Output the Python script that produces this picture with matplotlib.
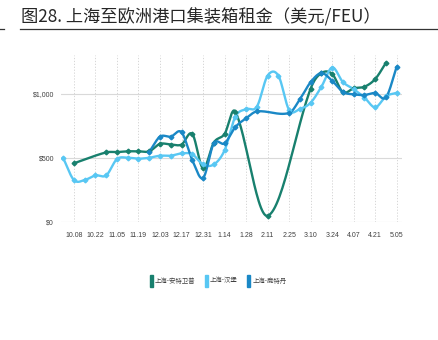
import numpy as np
import matplotlib
matplotlib.use("Agg")
import matplotlib.pyplot as plt
from matplotlib.patches import Rectangle
from matplotlib.lines import Line2D

plt.rcParams['font.family'] = ['Noto Sans CJK SC', 'DejaVu Sans']

# ---- data (week index 0 = 10.08, weekly) ----
tick_labels = ["10.08", "10.22", "11.05", "11.19", "12.03", "12.17", "12.31", "1.14",
               "1.28", "2.11", "2.25", "3.10", "3.24", "4.07", "4.21", "5.05"]
tick_weeks = list(range(0, 31, 2))

series_names = ["上海-安特卫普", "上海-汉堡", "上海-鹿特丹"]

antwerp_weeks = [0, 3, 4, 5, 6, 7, 8, 9, 10, 11, 12, 13, 14, 15, 18, 22, 23, 24, 25, 26, 27, 28, 29]
antwerp_vals = [459, 544, 546, 552, 552, 552, 610, 605, 605, 687, 420, 620, 687, 860, 51, 1040,
                1160, 1153, 1011, 1042, 1054, 1114, 1240]

hamburg_weeks = [-1, 0, 1, 2, 3, 4, 5, 6, 7, 8, 9, 10, 11, 12, 13, 14, 15, 16, 17, 18, 19, 20,
                 21, 22, 23, 24, 25, 26, 27, 28, 29, 30]
hamburg_vals = [500, 329, 329, 365, 365, 492, 502, 495, 502, 518, 518, 536, 529, 450, 450, 560,
                821, 880, 899, 1140, 1140, 873, 881, 930, 1054, 1203, 1090, 1035, 970, 894, 980, 1007]

rotterdam_weeks = [7, 8, 9, 10, 11, 12, 13, 14, 15, 16, 17, 20, 21, 22, 23, 24, 25, 26, 27, 28, 29, 30]
rotterdam_vals = [548, 666, 666, 700, 484, 345, 614, 614, 740, 809, 862, 850, 956, 1090, 1160,
                  1100, 1013, 995, 990, 1005, 972, 1210]

colors = ["#18806e", "#58c7f3", "#1a88c6"]


def smooth(xs, ys, n=30):
    """Smoothed line (cubic Hermite, finite-difference tangents) through the data points."""
    x = np.asarray(xs, float)
    y = np.asarray(ys, float)
    m = np.zeros_like(y)
    m[1:-1] = (y[2:] - y[:-2]) / (x[2:] - x[:-2])
    m[0] = (y[1] - y[0]) / (x[1] - x[0])
    m[-1] = (y[-1] - y[-2]) / (x[-1] - x[-2])
    ox, oy = [], []
    for i in range(len(x) - 1):
        h = x[i + 1] - x[i]
        s = np.linspace(0, 1, n)
        if i > 0:
            s = s[1:]
        h00 = 2 * s ** 3 - 3 * s ** 2 + 1
        h10 = s ** 3 - 2 * s ** 2 + s
        h01 = -2 * s ** 3 + 3 * s ** 2
        h11 = s ** 3 - s ** 2
        ox.append(x[i] + s * h)
        oy.append(h00 * y[i] + h10 * h * m[i] + h01 * y[i + 1] + h11 * h * m[i + 1])
    return np.concatenate(ox), np.concatenate(oy)


fig = plt.figure(figsize=(4.39, 3.40), dpi=100)
ax = fig.add_axes([0.139, 0.346, 0.777, 0.492])

for xs, ys, c in [(antwerp_weeks, antwerp_vals, colors[0]),
                  (hamburg_weeks, hamburg_vals, colors[1]),
                  (rotterdam_weeks, rotterdam_vals, colors[2])]:
    sx, sy = smooth(xs, ys)
    ax.plot(sx, sy, color=c, lw=1.7, solid_capstyle='round', zorder=3)
    ax.plot(xs, ys, ls='none', marker='D', ms=2.4, color=c, zorder=4)

ax.set_xlim(-1.2, 30.5)
ax.set_ylim(0, 1300)
ax.set_yticks([0, 500, 1000])
ax.set_yticklabels(["$0", "$500", "$1,000"])
ax.set_xticks(tick_weeks)
ax.set_xticklabels(tick_labels)
for s in ax.spines.values():
    s.set_visible(False)
ax.grid(axis='y', color='#d9d9d9', lw=0.8, ls='-')
ax.grid(axis='x', color='#d0d0d0', lw=0.6, ls=(0, (1.5, 2)))
ax.set_axisbelow(True)
ax.tick_params(axis='both', length=0, colors='#404040')
ax.tick_params(axis='x', pad=7)
ax.tick_params(axis='y', pad=5)
for lab in ax.get_xticklabels() + ax.get_yticklabels():
    lab.set_family(['Liberation Sans', 'DejaVu Sans'])
    lab.set_fontsize(5)
    lab.set_stretch('condensed')

handles = [Rectangle((0, 0), 1, 1, color=c) for c in colors]
leg = fig.legend(handles, series_names, loc='center', bbox_to_anchor=(0.497, 0.174), ncol=3,
                 frameon=False, fontsize=4.6, handlelength=0.45, handleheight=2.6,
                 handletextpad=0.35, columnspacing=1.5)
for t in leg.get_texts():
    t.set_color('#404040')

fig.text(21 / 439, 1 - 17 / 340, "图28. 上海至欧洲港口集装箱租金（美元/FEU）", fontsize=12.4,
         color='#262626', va='center', ha='left', fontweight='medium',
         family=['Noto Sans CJK SC', 'DejaVu Sans'])
fig.add_artist(Line2D([20 / 439, 437 / 439], [1 - 29 / 340, 1 - 29 / 340], color='#333333', lw=0.9))
fig.add_artist(Line2D([0, 4 / 439], [1 - 29 / 340, 1 - 29 / 340], color='#333333', lw=0.9))

fig.savefig("out.png", dpi=100)
